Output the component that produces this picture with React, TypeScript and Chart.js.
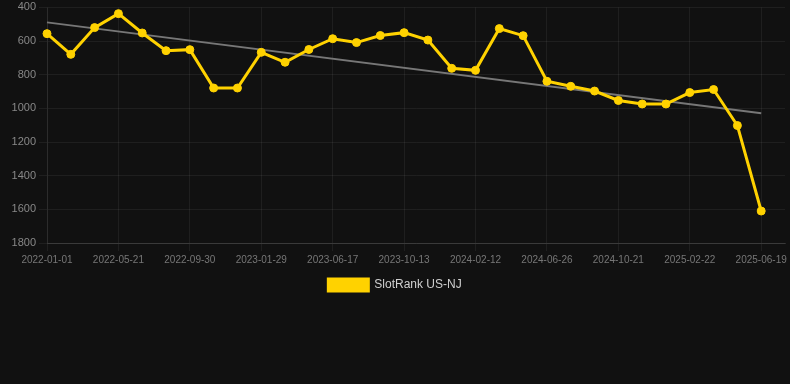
import React, { useEffect, useRef } from "react";
import { Chart, registerables } from "chart.js";

Chart.register(...registerables);

const dateLabels: string[] = [
  "2022-01-01", "2022-02-16", "2022-04-04",
  "2022-05-21", "2022-07-04", "2022-08-17",
  "2022-09-30", "2022-11-09", "2022-12-19",
  "2023-01-29", "2023-03-15", "2023-05-01",
  "2023-06-17", "2023-07-27", "2023-09-04",
  "2023-10-13", "2023-11-23", "2024-01-02",
  "2024-02-12", "2024-03-28", "2024-05-12",
  "2024-06-26", "2024-08-04", "2024-09-12",
  "2024-10-21", "2024-12-01", "2025-01-11",
  "2025-02-22", "2025-04-01", "2025-05-10",
  "2025-06-19", "",
];

const rankValues: (number | null)[] = [
  556, 679, 520, 437, 552, 657, 651, 879, 879, 667,
  726, 650, 586, 609, 567, 550, 594, 762, 774, 526,
  568, 839, 869, 897, 953, 974, 974, 906, 888, 1102,
  1610, null,
];

const trendValues: (number | null)[] = [
  489, null, null, null, null, null, null, null, null, null,
  null, null, null, null, null, null, null, null, null, null,
  null, null, null, null, null, null, null, null, null, null,
  1029, null,
];

const yTicks = { min: 400, max: 1800, step: 200 };
const seriesName = "SlotRank US-NJ";

export default function App() {
  const ref = useRef<HTMLCanvasElement | null>(null);

  useEffect(() => {
    document.body.style.margin = "0";
    document.body.style.background = "#111111";
    const canvas = ref.current;
    if (!canvas) return;
    const chart = new Chart(canvas, {
      type: "line",
      data: {
        labels: dateLabels,
        datasets: [
          {
            label: seriesName,
            data: rankValues,
            borderColor: "#FFD200",
            backgroundColor: "#FFD200",
            borderWidth: 3,
            pointRadius: 4,
            pointBorderWidth: 1,
            pointBackgroundColor: "#FFD200",
            pointBorderColor: "#FFD200",
            tension: 0,
            order: 1,
          },
          {
            label: "trend",
            data: trendValues,
            borderColor: "#777777",
            borderWidth: 2,
            pointRadius: 0,
            spanGaps: true,
            order: 2,
          },
        ],
      },
      options: {
        animation: false,
        responsive: false,
        maintainAspectRatio: false,
        layout: { padding: 0 },
        scales: {
          x: {
            offset: false,
            grid: { color: "rgba(255,255,255,0.06)" },
            border: { color: "rgba(255,255,255,0.12)" },
            ticks: {
              autoSkip: false,
              maxRotation: 0,
              color: "#777777",
              font: { family: "'Liberation Sans', Arial, sans-serif", size: 10 },
              callback: (_v: any, i: number) =>
                i % 3 === 0 && dateLabels[i] ? dateLabels[i] : null,
            },
          },
          y: {
            reverse: true,
            min: yTicks.min,
            max: yTicks.max,
            afterFit: (scale: any) => {
              scale.width = 47;
            },
            grid: { color: "rgba(255,255,255,0.06)" },
            border: { color: "rgba(255,255,255,0.06)" },
            ticks: {
              stepSize: yTicks.step,
              color: "#888888",
              font: { family: "'Liberation Sans', Arial, sans-serif", size: 11, lineHeight: 0.8 },
              callback: (v: any) => String(v),
            },
          },
        },
        plugins: {
          legend: {
            position: "bottom",
            labels: {
              boxWidth: 40,
              boxHeight: 12,
              color: "#d0d0d0",
              font: { family: "'Liberation Sans', Arial, sans-serif", size: 12 },
              filter: (item: any) => item.text === seriesName,
            },
          },
          tooltip: { enabled: false },
        },
      },
    });
    return () => chart.destroy();
  }, []);

  return (
    <div style={{ width: 790, height: 384, background: "#111111" }}>
      <canvas ref={ref} width={790} height={301} style={{ display: "block" }} />
    </div>
  );
}
